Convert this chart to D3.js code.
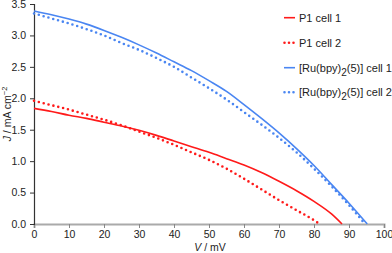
<!DOCTYPE html>
<html><head><meta charset="utf-8">
<script src="https://cdn.jsdelivr.net/npm/d3@7"></script>
<style>body{margin:0;background:#fff}svg{display:block}text{font-family:"Liberation Sans",Arial,sans-serif}</style>
</head><body><svg id="c" width="392" height="253"></svg>
<script>
const voltage = [0,5,10,15,20,25,30,35,40,45,50,55,60,65,70,75,80,85,90,95];
const p1Cell1 = [1.84,1.79,1.73,1.68,1.62,1.56,1.49,1.41,1.32,1.23,1.14,1.04,0.94,0.82,0.68,0.53,0.36,0.16,null,null];
const p1Cell1End = 88;
const p1Cell2 = [1.96,1.89,1.82,1.74,1.66,1.57,1.47,1.37,1.26,1.14,1.02,0.88,0.72,0.55,0.38,0.22,0.06,null,null,null];
const p1Cell2End = 81.6;
const ruCell1 = [3.39,3.33,3.26,3.18,3.08,2.97,2.85,2.72,2.58,2.44,2.28,2.11,1.90,1.68,1.45,1.20,0.93,0.63,0.33,null];
const ruCell1End = 95.2;
const ruCell2 = [3.35,3.27,3.19,3.10,3.00,2.88,2.77,2.64,2.50,2.33,2.16,1.98,1.78,1.58,1.37,1.14,0.88,0.60,0.30,null];
const ruCell2End = 94.6;
const xTicks = [0,10,20,30,40,50,60,70,80,90,100];
const yTicks = [0,0.5,1,1.5,2,2.5,3,3.5];

const svg = d3.select("#c");
const x = d3.scaleLinear().domain([0,100]).range([34,384]);
const y = d3.scaleLinear().domain([0,3.5]).range([224,4]);

function series(vals, end){
  const pts = [];
  vals.forEach((v,i)=>{ if(v!==null) pts.push([voltage[i], v]); });
  pts.push([end, 0]);
  return pts;
}
const line = d3.line().x(d=>x(d[0])).y(d=>y(d[1])).curve(d3.curveMonotoneX);

const seriesDefs = [
  {name:"P1 cell 1", data:series(p1Cell1,p1Cell1End), color:"#ff1a1a", dotted:false},
  {name:"P1 cell 2", data:series(p1Cell2,p1Cell2End), color:"#ff1a1a", dotted:true},
  {name:"ru1", data:series(ruCell1,ruCell1End), color:"#4a86f2", dotted:false},
  {name:"ru2", data:series(ruCell2,ruCell2End), color:"#4a86f2", dotted:true}
];

// axes
const gx = svg.append("g").attr("transform","translate(0,224)")
  .call(d3.axisBottom(x).tickValues(xTicks).tickSize(4).tickPadding(3).tickFormat(d3.format("d")));
gx.select(".domain").attr("stroke","#aaa").attr("stroke-width",2);
gx.selectAll(".tick line").attr("stroke","#888");
gx.selectAll("text").attr("font-size",10.5).attr("fill","#222").style("font-family","Liberation Sans, Arial, sans-serif");

const gy = svg.append("g").attr("transform","translate(34,0)")
  .call(d3.axisLeft(y).tickValues(yTicks).tickSize(4).tickPadding(4).tickFormat(d3.format(".1f")));
gy.select(".domain").attr("stroke","#333").attr("stroke-width",1.2);
gy.selectAll(".tick line").attr("stroke","#333");
gy.selectAll("text").attr("font-size",10.5).attr("fill","#222").style("font-family","Liberation Sans, Arial, sans-serif");

// lines
seriesDefs.forEach(s=>{
  const p = svg.append("path").datum(s.data).attr("d",line).attr("fill","none")
    .attr("stroke",s.color);
  if(s.dotted){ p.attr("stroke-width",2.6).attr("stroke-dasharray","0,5").attr("stroke-linecap","round"); }
  else { p.attr("stroke-width",1.6); }
});

// axis labels
const yl = svg.append("text").attr("transform","translate(11,114) rotate(-90)")
  .attr("text-anchor","middle").attr("font-size",10.5).attr("fill","#222");
yl.append("tspan").attr("font-style","italic").text("J");
yl.append("tspan").text(" / mA cm");
yl.append("tspan").attr("font-size",7.5).attr("dy",-4).text("−2");

const xl = svg.append("text").attr("x",210).attr("y",251).attr("text-anchor","middle")
  .attr("font-size",10.5).attr("fill","#222");
xl.append("tspan").attr("font-style","italic").text("V");
xl.append("tspan").text(" / mV");

// legend
const legY = [17.7,42.7,67.7,92.3];
seriesDefs.forEach((s,i)=>{
  const g = svg.append("g").attr("transform",`translate(0,${legY[i]})`);
  const l = g.append("line").attr("x1",284).attr("x2",295).attr("y1",0).attr("y2",0).attr("stroke",s.color);
  if(s.dotted){ l.attr("x1",284.5).attr("stroke-width",2.6).attr("stroke-dasharray","0,4.5").attr("stroke-linecap","round"); }
  else l.attr("stroke-width",1.6);
  const t = g.append("text").attr("x",299).attr("y",4).attr("font-size",11).attr("fill","#222");
  if(i<2){ t.text(s.name); }
  else {
    t.append("tspan").text("[Ru(bpy)");
    t.append("tspan").attr("font-size",10).attr("dy",4).text("2");
    t.append("tspan").attr("dy",-4).text("(5)] cell " + (i-1));
  }
});
</script></body></html>
